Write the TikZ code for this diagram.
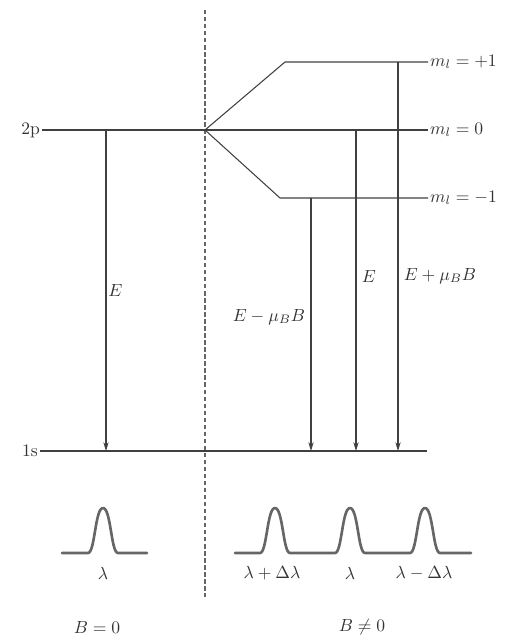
\documentclass[tikz,border=0pt]{standalone}
\usetikzlibrary{arrows.meta, positioning}

\begin{document}
\begin{tikzpicture}[x=0.02cm, y=-0.02cm,
    level/.style={draw=black!75, line width=0.6pt},
    trans/.style={draw=black!75, line width=0.6pt, -{Stealth[length=5pt, width=3pt]}},
    peak/.style={draw=black!60, line width=1.5pt, line join=round, line cap=round},
    lbl/.style={inner sep=1pt, text=black!80}]
        \useasboundingbox (0,0) rectangle (515,641);

        % dividing line
        \coordinate (top) at (205,10);
        \coordinate (bot) at (205,597);
        \draw[black!60, line width=0.6pt, dash pattern=on 2.5pt off 1.5pt] (top) -- (bot);

        % levels
        \node[lbl, left] (l2p) at (42,130) {2p};
        \node[lbl, left] (l1s) at (40,451) {1s};
        \coordinate (v) at (205,130);
        \node[lbl, right] (mp) at (428,62) {$m_l = +1$};
        \node[lbl, right] (m0) at (428,130) {$m_l = 0$};
        \node[lbl, right] (mm) at (428,198) {$m_l = -1$};
        \coordinate (kp) at (285,62);
        \coordinate (km) at (280,198);
        \coordinate (r1s) at (427,451);

        \draw[level] (l2p.east) -- (v) -- (m0.west);
        \draw[level] (v) -- (kp) -- (mp.west);
        \draw[level] (v) -- (km) -- (mm.west);
        \draw[level] (l1s.east) -- (r1s);

        % transitions
        \coordinate (a0) at (106,130);  \coordinate (b0) at (106,451);
        \coordinate (am) at (311,198);  \coordinate (bm) at (311,451);
        \coordinate (az) at (356,130);  \coordinate (bz) at (356,451);
        \coordinate (ap) at (398,62);   \coordinate (bp) at (398,451);

        \draw[trans] (a0) -- node[lbl, right, pos=0.5] (e0) {$E$} (b0);
        \draw[trans] (am) -- node[lbl, left=2pt, pos=0.47] (em) {$E - \mu_B B$} (bm);
        \draw[trans] (az) -- node[lbl, right=2pt, pos=0.455] (ez) {$E$} (bz);
        \draw[trans] (ap) -- node[lbl, right=2pt, pos=0.55] (ep) {$E + \mu_B B$} (bp);

        % line shapes
        \draw[peak] (62,553) foreach \c in {103} {
            -- (\c-15,553) .. controls (\c-8,553) and (\c-8,508) .. (\c,508)
            .. controls (\c+8,508) and (\c+8,553) .. (\c+15,553) } -- (147,553);
        \draw[peak] (235,553) foreach \c in {275,350,425} {
            -- (\c-15,553) .. controls (\c-8,553) and (\c-8,508) .. (\c,508)
            .. controls (\c+8,508) and (\c+8,553) .. (\c+15,553) } -- (471,553);

        \node[lbl] (w0) at (103,573) {$\lambda$};
        \node[lbl] (w1) at (272,573) {$\lambda + \Delta\lambda$};
        \node[lbl] (w2) at (350,573) {$\lambda$};
        \node[lbl] (w3) at (424,573) {$\lambda - \Delta\lambda$};

        \node[lbl] (f0) at (97,627) {$B = 0$};
        \node[lbl] (f1) at (362,627) {$B \neq 0$};
\end{tikzpicture}
\end{document}
